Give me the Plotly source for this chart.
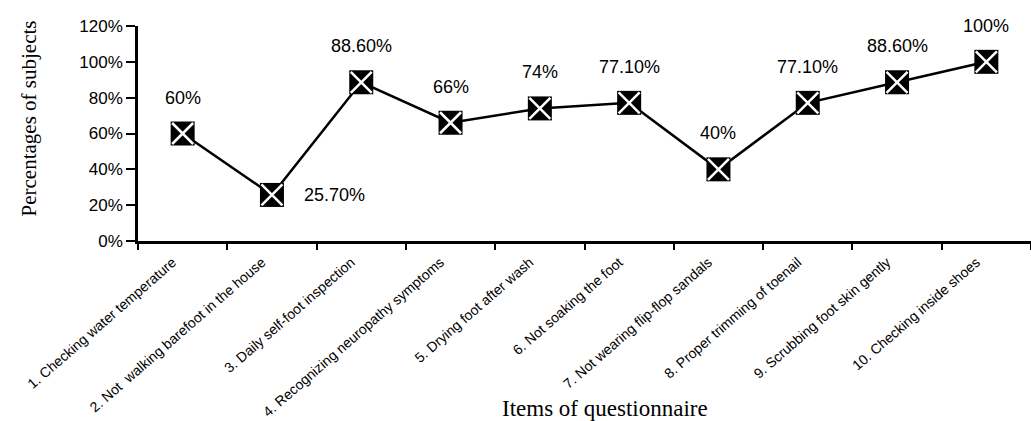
import plotly.graph_objects as go

items = [
    "1. Checking water temperature",
    "2. Not  walking barefoot in the house",
    "3. Daily self-foot inspection",
    "4. Recognizing neuropathy symptoms",
    "5. Drying foot after wash",
    "6. Not soaking the foot",
    "7. Not wearing flip-flop sandals",
    "8. Proper trimming of toenail",
    "9. Scrubbing foot skin gently",
    "10. Checking inside shoes",
]
percent = [60, 25.7, 88.6, 66, 74, 77.1, 40, 77.1, 88.6, 100]
value_labels = ["60%", "25.70%", "88.60%", "66%", "74%", "77.10%", "40%", "77.10%", "88.60%", "100%"]
y_ticks = [0, 20, 40, 60, 80, 100, 120]

fig = go.Figure()
fig.add_trace(go.Scatter(
    x=items, y=percent, mode="lines+markers",
    line=dict(color="black", width=2.5),
    marker=dict(symbol="square", size=24, color="black", line=dict(width=0)),
    hoverinfo="skip", showlegend=False,
))
fig.add_trace(go.Scatter(
    x=items, y=percent, mode="markers",
    marker=dict(symbol="x-thin", size=21, line=dict(color="white", width=2.5)),
    hoverinfo="skip", showlegend=False,
))

for i, (item, v, lab) in enumerate(zip(items, percent, value_labels)):
    side = i == 1
    fig.add_annotation(
        x=item, y=v, text=lab, showarrow=False,
        xshift=63 if side else 0, yshift=0 if side else 36,
        font=dict(family="Liberation Sans, Arial", size=18, color="black"),
    )

fig.add_annotation(
    text="Items of questionnaire", xref="paper", yref="paper",
    x=0.523, y=0, yanchor="middle", yshift=-167, showarrow=False, bgcolor="white",
    font=dict(family="Liberation Serif, Times New Roman", size=23, color="black"),
)
fig.add_annotation(
    text="Percentages of subjects", xref="paper", yref="paper",
    x=0, y=0.57, xshift=-123, textangle=-90, showarrow=False,
    font=dict(family="Liberation Serif, Times New Roman", size=21, color="black"),
)

fig.update_layout(
    width=1031, height=421,
    margin=dict(l=138, r=0, t=26, b=180),
    paper_bgcolor="white", plot_bgcolor="white",
    xaxis=dict(
        type="category", categoryorder="array", categoryarray=items,
        range=[-0.5, 9.5],
        tickangle=-41, tickson="boundaries", automargin=False,
        ticklabelshift=-10, ticklabelstandoff=5,
        ticks="outside", ticklen=6, tickwidth=2, tickcolor="black",
        showline=True, linecolor="black", linewidth=2.5,
        showgrid=False, zeroline=False,
        tickfont=dict(family="Liberation Sans, Arial", size=14, color="black"),
    ),
    yaxis=dict(
        range=[0, 120], tickmode="array", tickvals=y_ticks, automargin=False,
        ticktext=[f"{t}%" for t in y_ticks],
        ticks="outside", ticklen=9, tickwidth=2, tickcolor="black",
        showline=True, linecolor="black", linewidth=2.5,
        showgrid=False, zeroline=False,
        tickfont=dict(family="Liberation Sans, Arial", size=17, color="black"),
    ),
)

fig.write_html("out.html")
